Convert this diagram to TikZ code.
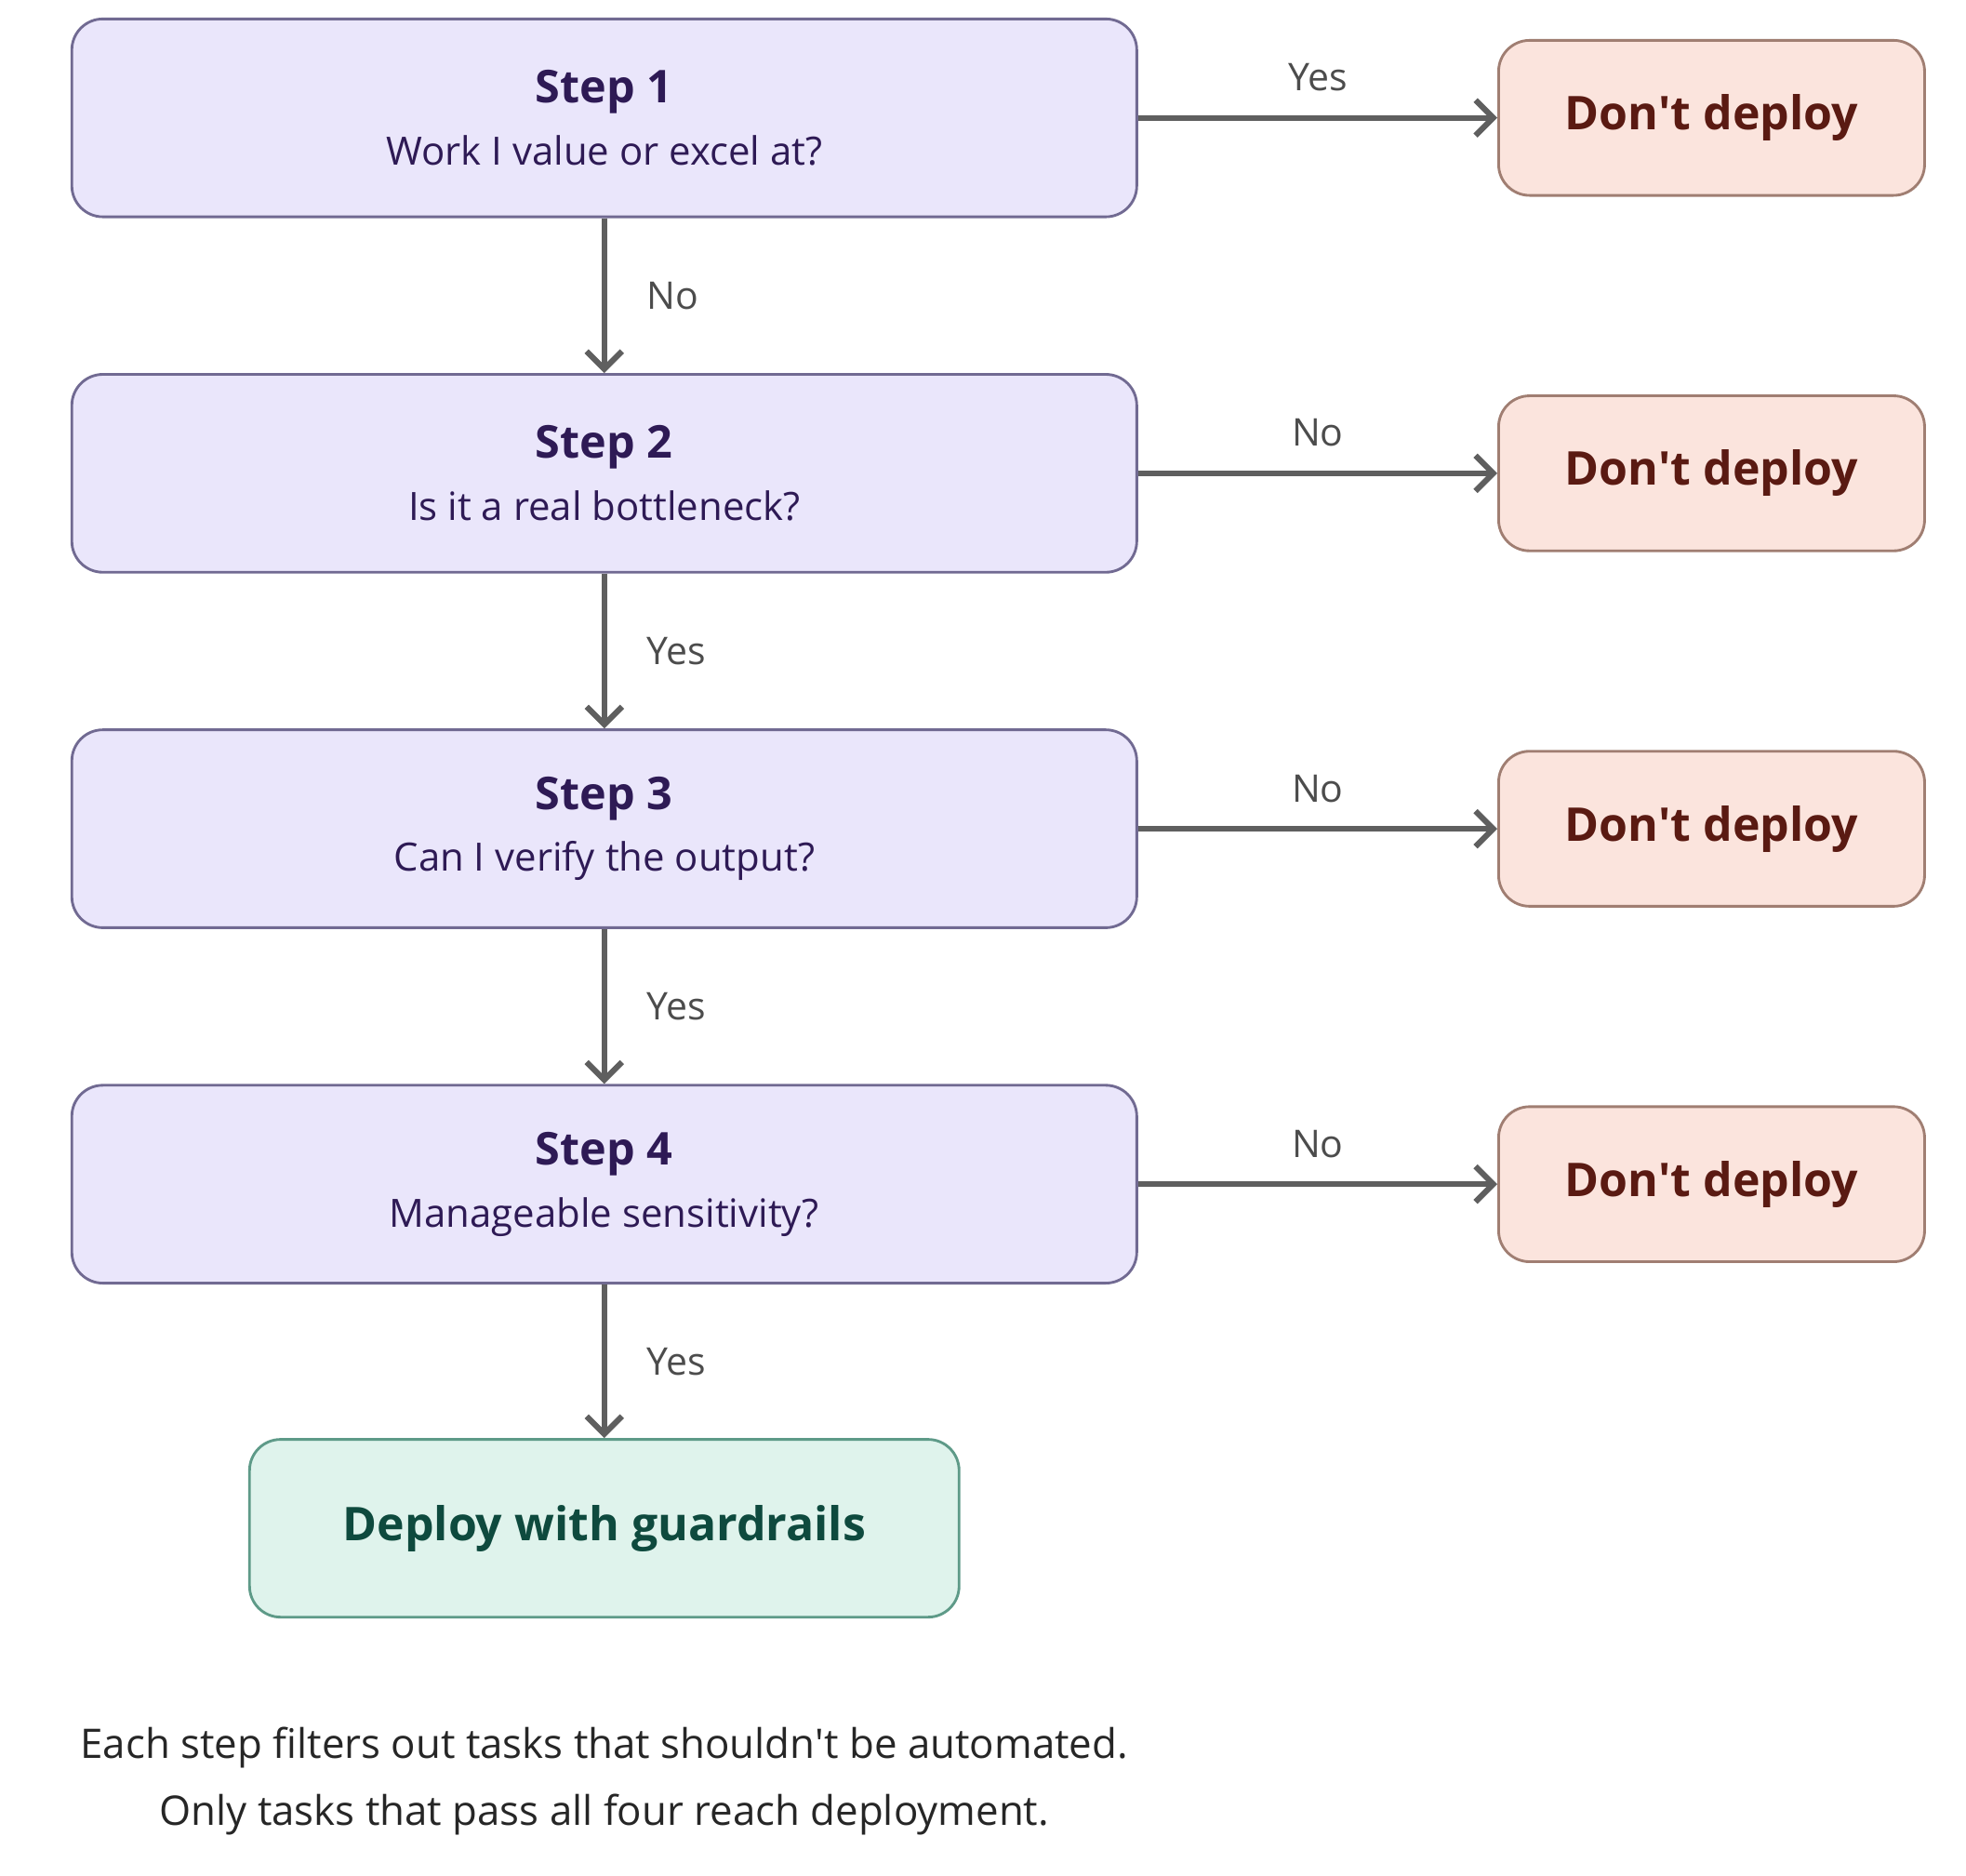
\documentclass[tikz,border=0pt]{standalone}
\usepackage{fontspec}
\setmainfont{Open Sans}
\usetikzlibrary{arrows.meta,positioning}
\definecolor{stepfill}{HTML}{EAE6FB}
\definecolor{stepdraw}{HTML}{716A92}
\definecolor{steptext}{HTML}{2E1A55}
\definecolor{nofill}{HTML}{FBE4DD}
\definecolor{nodraw}{HTML}{A07E72}
\definecolor{notext}{HTML}{5A1A12}
\definecolor{okfill}{HTML}{DFF3EC}
\definecolor{okdraw}{HTML}{5E9A88}
\definecolor{oktext}{HTML}{0E4A3E}
\definecolor{arrowgray}{HTML}{5F5F5F}
\tikzset{
  stepbox/.style={draw=stepdraw, fill=stepfill, rounded corners=7pt, line width=0.6pt,
    minimum width=8.45cm, minimum height=1.57cm, align=center, text=steptext, font=\fontsize{8.8}{14}\selectfont},
  stopbox/.style={draw=nodraw, fill=nofill, rounded corners=7pt, line width=0.6pt,
    minimum width=3.38cm, minimum height=1.23cm, text=notext, font=\fontsize{10.5}{12}\selectfont\bfseries},
  gobox/.style={draw=okdraw, fill=okfill, rounded corners=7pt, line width=0.6pt,
    minimum width=5.63cm, minimum height=1.41cm, text=oktext, font=\fontsize{10.5}{12}\selectfont\bfseries},
  flow/.style={-{Straight Barb[length=4pt,width=8pt]}, draw=arrowgray, line width=1.3pt},
  lbl/.style={text=arrowgray!80!black, font=\fontsize{8.6}{10}\selectfont}
}
\begin{document}
\begin{tikzpicture}
  \useasboundingbox (0,0) rectangle (15.6,-14.88);

  \node[stepbox] (s1) at (4.795,-0.935) {{\fontsize{10.2}{12}\selectfont\bfseries Step 1}\\Work I value or excel at?};
  \node[stepbox] (s2) at (4.795,-3.755) {{\fontsize{10.2}{12}\selectfont\bfseries Step 2}\\Is it a real bottleneck?};
  \node[stepbox] (s3) at (4.795,-6.575) {{\fontsize{10.2}{12}\selectfont\bfseries Step 3}\\Can I verify the output?};
  \node[stepbox] (s4) at (4.795,-9.395) {{\fontsize{10.2}{12}\selectfont\bfseries Step 4}\\Manageable sensitivity?};
  \node[gobox] (deploy) at (4.795,-12.125) {Deploy with guardrails};

  \foreach \i in {1,2,3,4}{
    \node[stopbox, right=2.85cm of s\i] (d\i) {Don\textquotesingle t deploy};
  }

  \foreach \i/\j/\t in {1/2/No,2/3/Yes,3/4/Yes}{
    \draw[flow] (s\i) -- node[lbl, right=0.2cm] {\t} (s\j);
  }
  \draw[flow] (s4) -- node[lbl, right=0.2cm] {Yes} (deploy);

  \foreach \i/\t in {1/Yes,2/No,3/No,4/No}{
    \draw[flow] (s\i) -- node[lbl, above=2pt] {\t} (d\i);
  }

  \node[font=\fontsize{9.2}{15}\selectfont, align=center, text=black!85] (note) at (4.795,-14.13)
    {Each step filters out tasks that shouldn\textquotesingle t be automated.\\Only tasks that pass all four reach deployment.};
\end{tikzpicture}
\end{document}
